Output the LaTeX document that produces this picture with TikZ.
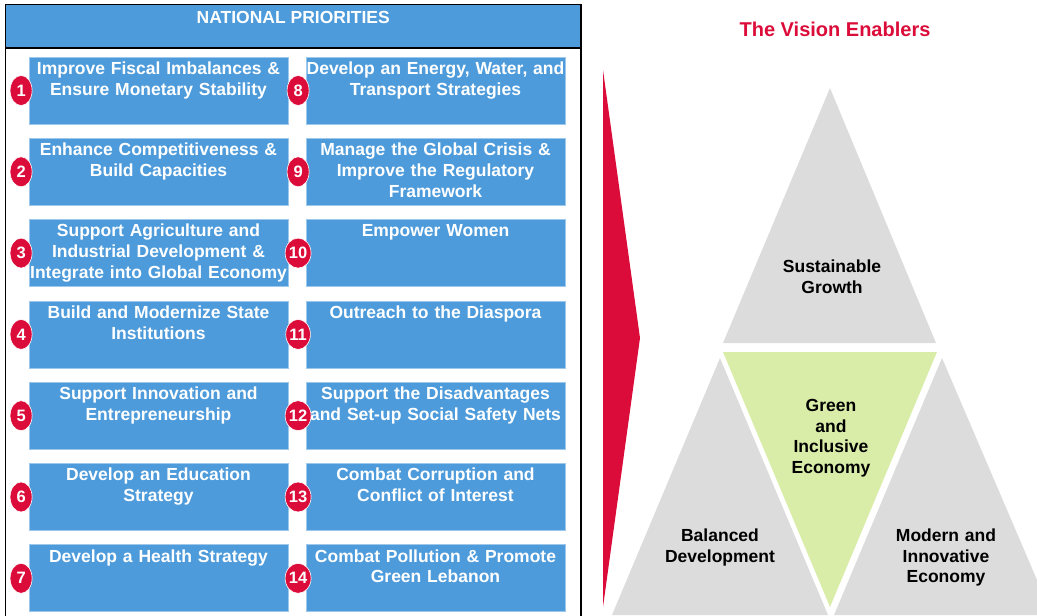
\documentclass[tikz,border=0pt]{standalone}
\usepackage{fontspec}
\setmainfont{Liberation Sans}
\usetikzlibrary{shapes.geometric}

\definecolor{prioblue}{RGB}{77,155,219}
\definecolor{priored}{RGB}{220,12,58}
\definecolor{pillargray}{RGB}{220,220,220}
\definecolor{pillargreen}{RGB}{217,237,169}

\tikzset{
	prio/.style={draw=prioblue!55!white, fill=prioblue, line width=0.8pt, inner sep=0pt,
		minimum width=259pt, minimum height=67pt, text width=259pt, align=center,
		text height=17.3pt, text depth=49.7pt, text=white,
		font=\fontsize{17.5}{20.8}\selectfont\bfseries},
	num/.style={ellipse, fill=priored, draw=white, line width=0.6pt, inner sep=0pt,
		minimum width=22pt, minimum height=30pt, text=white,
		font=\fontsize{16.5}{18}\selectfont\bfseries},
	pillar/.style={anchor=base, text width=160pt, align=center, inner sep=0pt,
		font=\fontsize{17.5}{20.8}\selectfont\bfseries},
}

\begin{document}
\begin{tikzpicture}[x=1pt, y=-1pt]
	\useasboundingbox (0,0) rectangle (1037,616);
	\coordinate (panelbot) at (0,620);

	% left panel
	\node[draw=black, line width=1.6pt, outer sep=0pt, fill=prioblue, inner sep=0pt,
		minimum width=575.5pt, minimum height=43.2pt, text height=18.8pt, text depth=24.4pt,
		text=white, font=\fontsize{17.5}{20.8}\selectfont\bfseries] (head) at (293.25,26.1) {NATIONAL PRIORITIES};
	\draw[line width=1.6pt] (head.south west) -- (head.south west |- panelbot);
	\draw[line width=1.6pt] (head.south east) -- (head.south east |- panelbot);

	\node[prio] (p1) at (158.5,90.5) {Improve Fiscal Imbalances \&\\Ensure Monetary Stability};
	\node[prio] (p2) at (158.5,171.8) {Enhance Competitiveness \&\\Build Capacities};
	\node[prio] (p3) at (158.5,253.1) {Support Agriculture and\\Industrial Development \&\\Integrate into Global Economy};
	\node[prio] (p4) at (158.5,334.4) {Build and Modernize State\\Institutions};
	\node[prio] (p5) at (158.5,415.7) {Support Innovation and\\Entrepreneurship};
	\node[prio] (p6) at (158.5,497) {Develop an Education\\Strategy};
	\node[prio] (p7) at (158.5,578.3) {Develop a Health Strategy};
	\node[prio] (p8) at (435.5,90.5) {Develop an Energy, Water, and\\Transport Strategies};
	\node[prio] (p9) at (435.5,171.8) {Manage the Global Crisis \&\\Improve the Regulatory\\Framework};
	\node[prio] (p10) at (435.5,253.1) {Empower Women};
	\node[prio] (p11) at (435.5,334.4) {Outreach to the Diaspora};
	\node[prio] (p12) at (435.5,415.7) {Support the Disadvantages\\and Set-up Social Safety Nets};
	\node[prio] (p13) at (435.5,497) {Combat Corruption and\\Conflict of Interest};
	\node[prio] (p14) at (435.5,578.3) {Combat Pollution \& Promote\\Green Lebanon};

	\foreach \i in {1,...,14}
		\node[num] (n\i) at ([xshift=-7.5pt]p\i.west) {\i};

	% arrow and enablers
	\fill[priored] (603,70) -- (640,338) -- (603,607) -- cycle;
	\node[text=priored, font=\fontsize{20}{24}\selectfont\bfseries] (vision) at (835,29.5) {The Vision Enablers};

	\fill[pillargray] (830,88) -- (936,343) -- (723,343) -- cycle;
	\fill[pillargreen] (723,352) -- (937,352) -- (830,607) -- cycle;
	\fill[pillargray] (720,358) -- (828,615) -- (612,615) -- cycle;
	\fill[pillargray] (942,358) -- (1052,615) -- (834,615) -- cycle;

	\node[pillar] (growth) at (832,272.3) {Sustainable\\Growth};
	\node[pillar, font=\fontsize{17.5}{20.7}\selectfont\bfseries] (green) at (831,411.3) {Green\\and\\Inclusive\\Economy};
	\node[pillar] (balanced) at (720,541.3) {Balanced\\Development};
	\node[pillar] (modern) at (946,541.3) {Modern and\\Innovative\\Economy};
\end{tikzpicture}
\end{document}
